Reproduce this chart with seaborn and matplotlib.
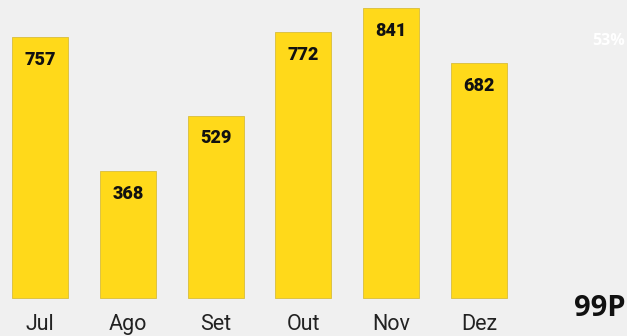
import pandas as pd
import matplotlib
matplotlib.use("Agg")
import matplotlib.pyplot as plt
import seaborn as sns

months = ["Jul", "Ago", "Set", "Out", "Nov", "Dez"]
values = [757, 368, 529, 772, 841, 682]
side_pct = "53%"
brand = "99P"

df = pd.DataFrame({"mes": months, "valor": values})

sns.set_style("white")
plt.rcParams["font.family"] = ["Roboto", "DejaVu Sans"]

fig = plt.figure(figsize=(6.27, 3.36), dpi=100)
fig.patch.set_facecolor("#f0f0f0")
ax = fig.add_axes([0, 0, 1, 1])
ax.set_facecolor("#f0f0f0")

sns.barplot(data=df, x="mes", y="valor", color="#ffd91a", saturation=1,
            width=0.64, edgecolor="#d8bd3a", linewidth=0.6, ax=ax)

ax.set_xlim(-0.456, 6.686)
ax.set_ylim(-110, 864)

for i, v in enumerate(values):
    ax.text(i, v - 66, str(v), ha="center", va="center",
            fontsize=13, fontweight="heavy", color="#111111")
    ax.text(i, -78, months[i], ha="center", va="center",
            fontsize=15.5, color="#222222")

# corner texts, kept just inside the right edge
ax.text(0.997, 0.879, side_pct, transform=ax.transAxes, ha="right", va="center",
        fontsize=11.5, fontweight="bold", color="white", family=["Open Sans", "DejaVu Sans"])
ax.text(0.997, 0.083, brand, transform=ax.transAxes, ha="right", va="center",
        fontsize=21, fontweight="bold", color="#111111", family=["Open Sans", "DejaVu Sans"])

ax.set_xlabel("")
ax.set_ylabel("")
ax.set_xticks([])
ax.set_yticks([])
sns.despine(ax=ax, left=True, bottom=True)

fig.savefig("out.png", dpi=100, facecolor=fig.get_facecolor())
